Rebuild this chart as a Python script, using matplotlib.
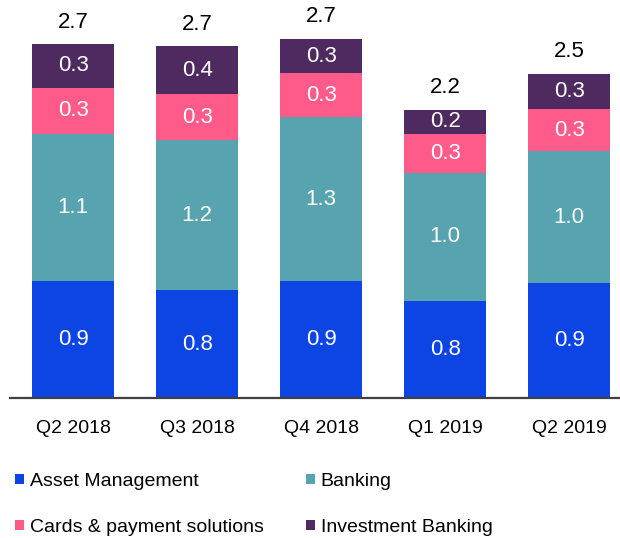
import matplotlib
matplotlib.use("Agg")
import matplotlib.pyplot as plt
from matplotlib import font_manager
from matplotlib.patches import Patch
import numpy as np

categories = ["Q2 2018", "Q3 2018", "Q4 2018", "Q1 2019", "Q2 2019"]
series_names = ["Asset Management", "Banking", "Cards & payment solutions", "Investment Banking"]
asset_mgmt = [0.89, 0.82, 0.89, 0.74, 0.875]
banking = [1.12, 1.14, 1.245, 0.97, 1.00]
cards = [0.35, 0.35, 0.335, 0.30, 0.32]
inv_banking = [0.33, 0.365, 0.26, 0.18, 0.27]
asset_labels = ["0.9", "0.8", "0.9", "0.8", "0.9"]
banking_labels = ["1.1", "1.2", "1.3", "1.0", "1.0"]
cards_labels = ["0.3", "0.3", "0.3", "0.3", "0.3"]
ib_labels = ["0.3", "0.4", "0.3", "0.2", "0.3"]
total_labels = ["2.7", "2.7", "2.7", "2.2", "2.5"]

colors = ["#0C45E4", "#57A3AF", "#FF5B8A", "#4F2A60"]

small_font = dict(family=["Liberation Sans", "DejaVu Sans"], size=14)
val_font = dict(family=["Liberation Sans", "DejaVu Sans"], size=16)

fig = plt.figure(figsize=(6.2, 5.38), dpi=100)
ax = fig.add_axes([10 / 620, (538 - 398) / 538, 610 / 620, 398 / 538])

x = np.arange(len(categories))
series = [asset_mgmt, banking, cards, inv_banking]
labels = [asset_labels, banking_labels, cards_labels, ib_labels]
bottom = np.zeros(len(categories))
for vals, lab, col in zip(series, labels, colors):
    bars = ax.bar(x, vals, width=0.66, bottom=bottom, color=col, linewidth=0)
    ax.bar_label(bars, labels=lab, label_type="center", color="white", **val_font)
    bottom = bottom + np.array(vals)

for xi, tot, lab in zip(x, bottom, total_labels):
    ax.annotate(lab, (xi, tot), xytext=(0, 12), textcoords="offset points",
                ha="center", va="baseline", color="black", **val_font)

ax.set_xlim(-0.51, 4.41)
ax.set_ylim(0, 398 / 131.5)
for s in ["top", "right", "left"]:
    ax.spines[s].set_visible(False)
ax.spines["bottom"].set_color("#404040")
ax.spines["bottom"].set_linewidth(1.6)
ax.set_yticks([])
ax.set_xticks(x)
ax.set_xticklabels(categories, **small_font)
ax.tick_params(axis="x", length=0, pad=16)

# legend filled column-wise: order so rows read AM, Banking / Cards, IB
order = [0, 2, 1, 3]
handles = [Patch(facecolor=colors[i], edgecolor="none") for i in order]
leg_labels = [series_names[i] for i in order]
fig.legend(handles, leg_labels, loc="upper left", bbox_to_anchor=(15 / 620, 1 - 473 / 538),
           ncol=2, frameon=False, prop=font_manager.FontProperties(**small_font),
           handlelength=0.45, handleheight=0.45, handletextpad=0.3,
           columnspacing=2.2, labelspacing=1.5, borderpad=0, borderaxespad=0)

fig.savefig("out.png", dpi=100)
